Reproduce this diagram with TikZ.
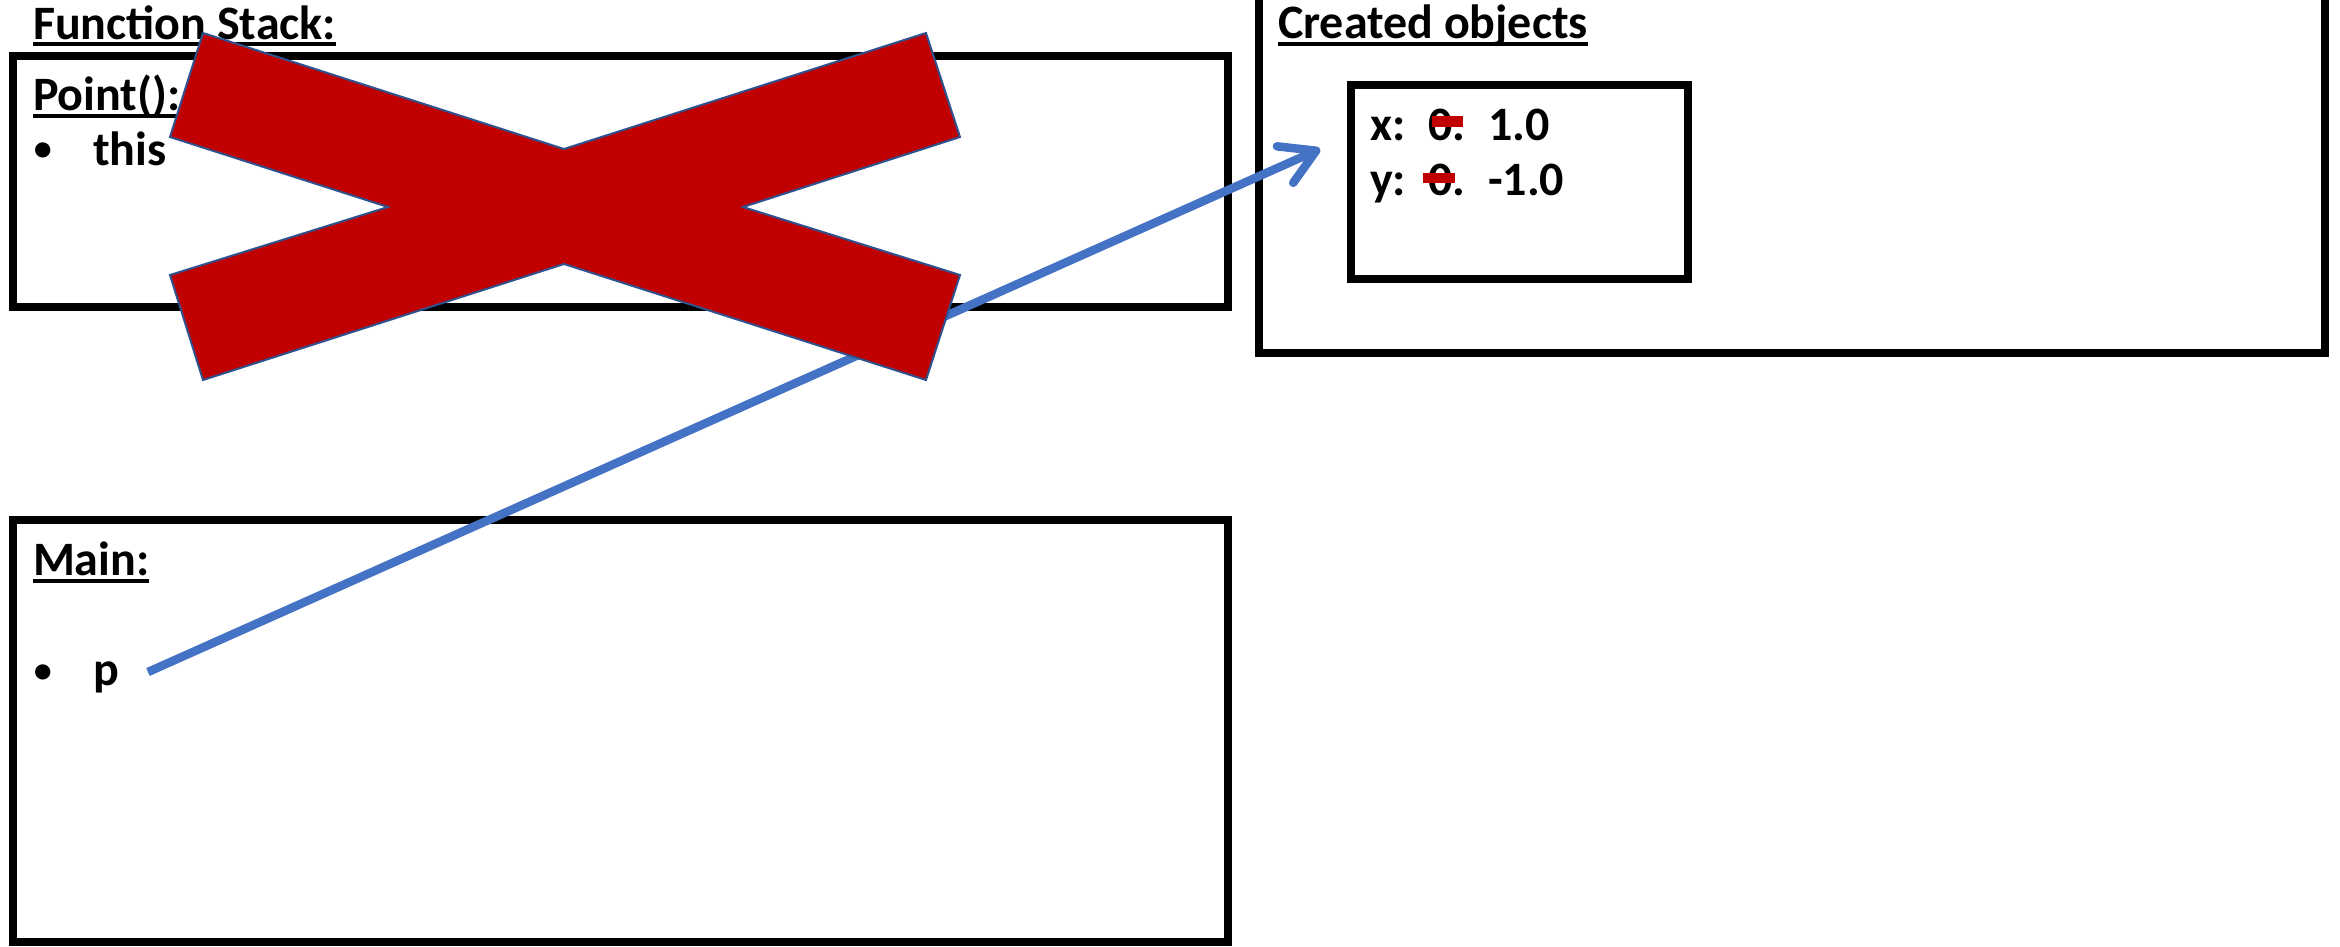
\documentclass[tikz,border=0pt]{standalone}
\usepackage{fontspec}
\setmainfont{Carlito}
\usetikzlibrary{arrows.meta}
\definecolor{xred}{HTML}{C00000}
\definecolor{xline}{HTML}{2F528F}
\definecolor{arrowblue}{HTML}{4472C4}
\begin{document}
\begin{tikzpicture}[x=1pt,y=-1pt,
  frame/.style={draw=black,line width=8pt,inner sep=0pt,outer sep=0pt,anchor=north west},
  lbl/.style={inner sep=0pt,outer sep=0pt,anchor=base west,font=\fontsize{48}{56}\selectfont\bfseries},
  bul/.style={inner sep=0pt,outer sep=0pt,anchor=base west,font=\fontsize{36}{40}\selectfont\bfseries},
  uline/.style={line width=4pt},
  strike/.style={fill=xred},
  ptr/.style={draw=arrowblue,line width=8.5pt,-{Straight Barb[length=34pt,width=40pt,round]}},
  bigx/.style={fill=xred,draw=xline,line width=2pt,line join=miter}]
\useasboundingbox (0,0) rectangle (2340,946);
\fill[white] (0,0) rectangle (2340,946);
% frames
\node[frame,minimum width=1215pt,minimum height=251pt] (pointbox) at (13,56) {};
\node[frame,minimum width=1215pt,minimum height=422pt] (mainbox) at (13,520) {};
\node[frame,minimum width=1066pt,minimum height=373pt] (createdbox) at (1259,-20) {};
\node[frame,minimum width=337pt,minimum height=194pt] (objbox) at (1351,85) {};
% labels
\node[lbl] (fs) at (33,39) {Function Stack:};
\draw[uline] ([yshift=-5pt]fs.base west) -- ([yshift=-5pt]fs.base east);
\node[lbl] (pt) at (33,110) {Point():};
\draw[uline] ([yshift=-6pt]pt.base west) -- ([yshift=-6pt]pt.base east);
\node[bul] (b1) at (34,160) {•};
\node[lbl] (this) at (93,165) {this};
\node[lbl] (mn) at (33,575) {Main:};
\draw[uline] ([yshift=-6pt]mn.base west) -- ([yshift=-6pt]mn.base east);
\node[bul] (b2) at (34,682) {•};
\node[lbl] (p) at (93,685) {p};
\node[lbl] (co) at (1278,38) {Created objects};
\draw[uline] ([yshift=-6pt]co.base west) -- ([yshift=-6pt]co.base east);
\node[lbl] (xl) at (1370,140) {x:};
\node[lbl] (x0) at (1428,140) {0.};
\node[lbl] (x1) at (1488,140) {1.0};
\node[lbl] (yl) at (1370,195) {y:};
\node[lbl] (y0) at (1428,195) {0.};
\node[lbl] (y1) at (1488,195) {-1.0};
\fill[strike] (1432,116) rectangle (1463,127);
\fill[strike] (1423,173) rectangle (1455,183);
% pointer
\coordinate (pstart) at (148,672);
\coordinate (ptip) at (1320,149);
\draw[ptr] (pstart) -- (ptip);
% big cross
\draw[bigx] (203,33) -- (564,149) -- (926,33) -- (960,137) -- (743,207) -- (960,275)
  -- (926,380) -- (564,264) -- (203,380) -- (170,275) -- (388,207) -- (170,137) -- cycle;
\end{tikzpicture}
\end{document}
